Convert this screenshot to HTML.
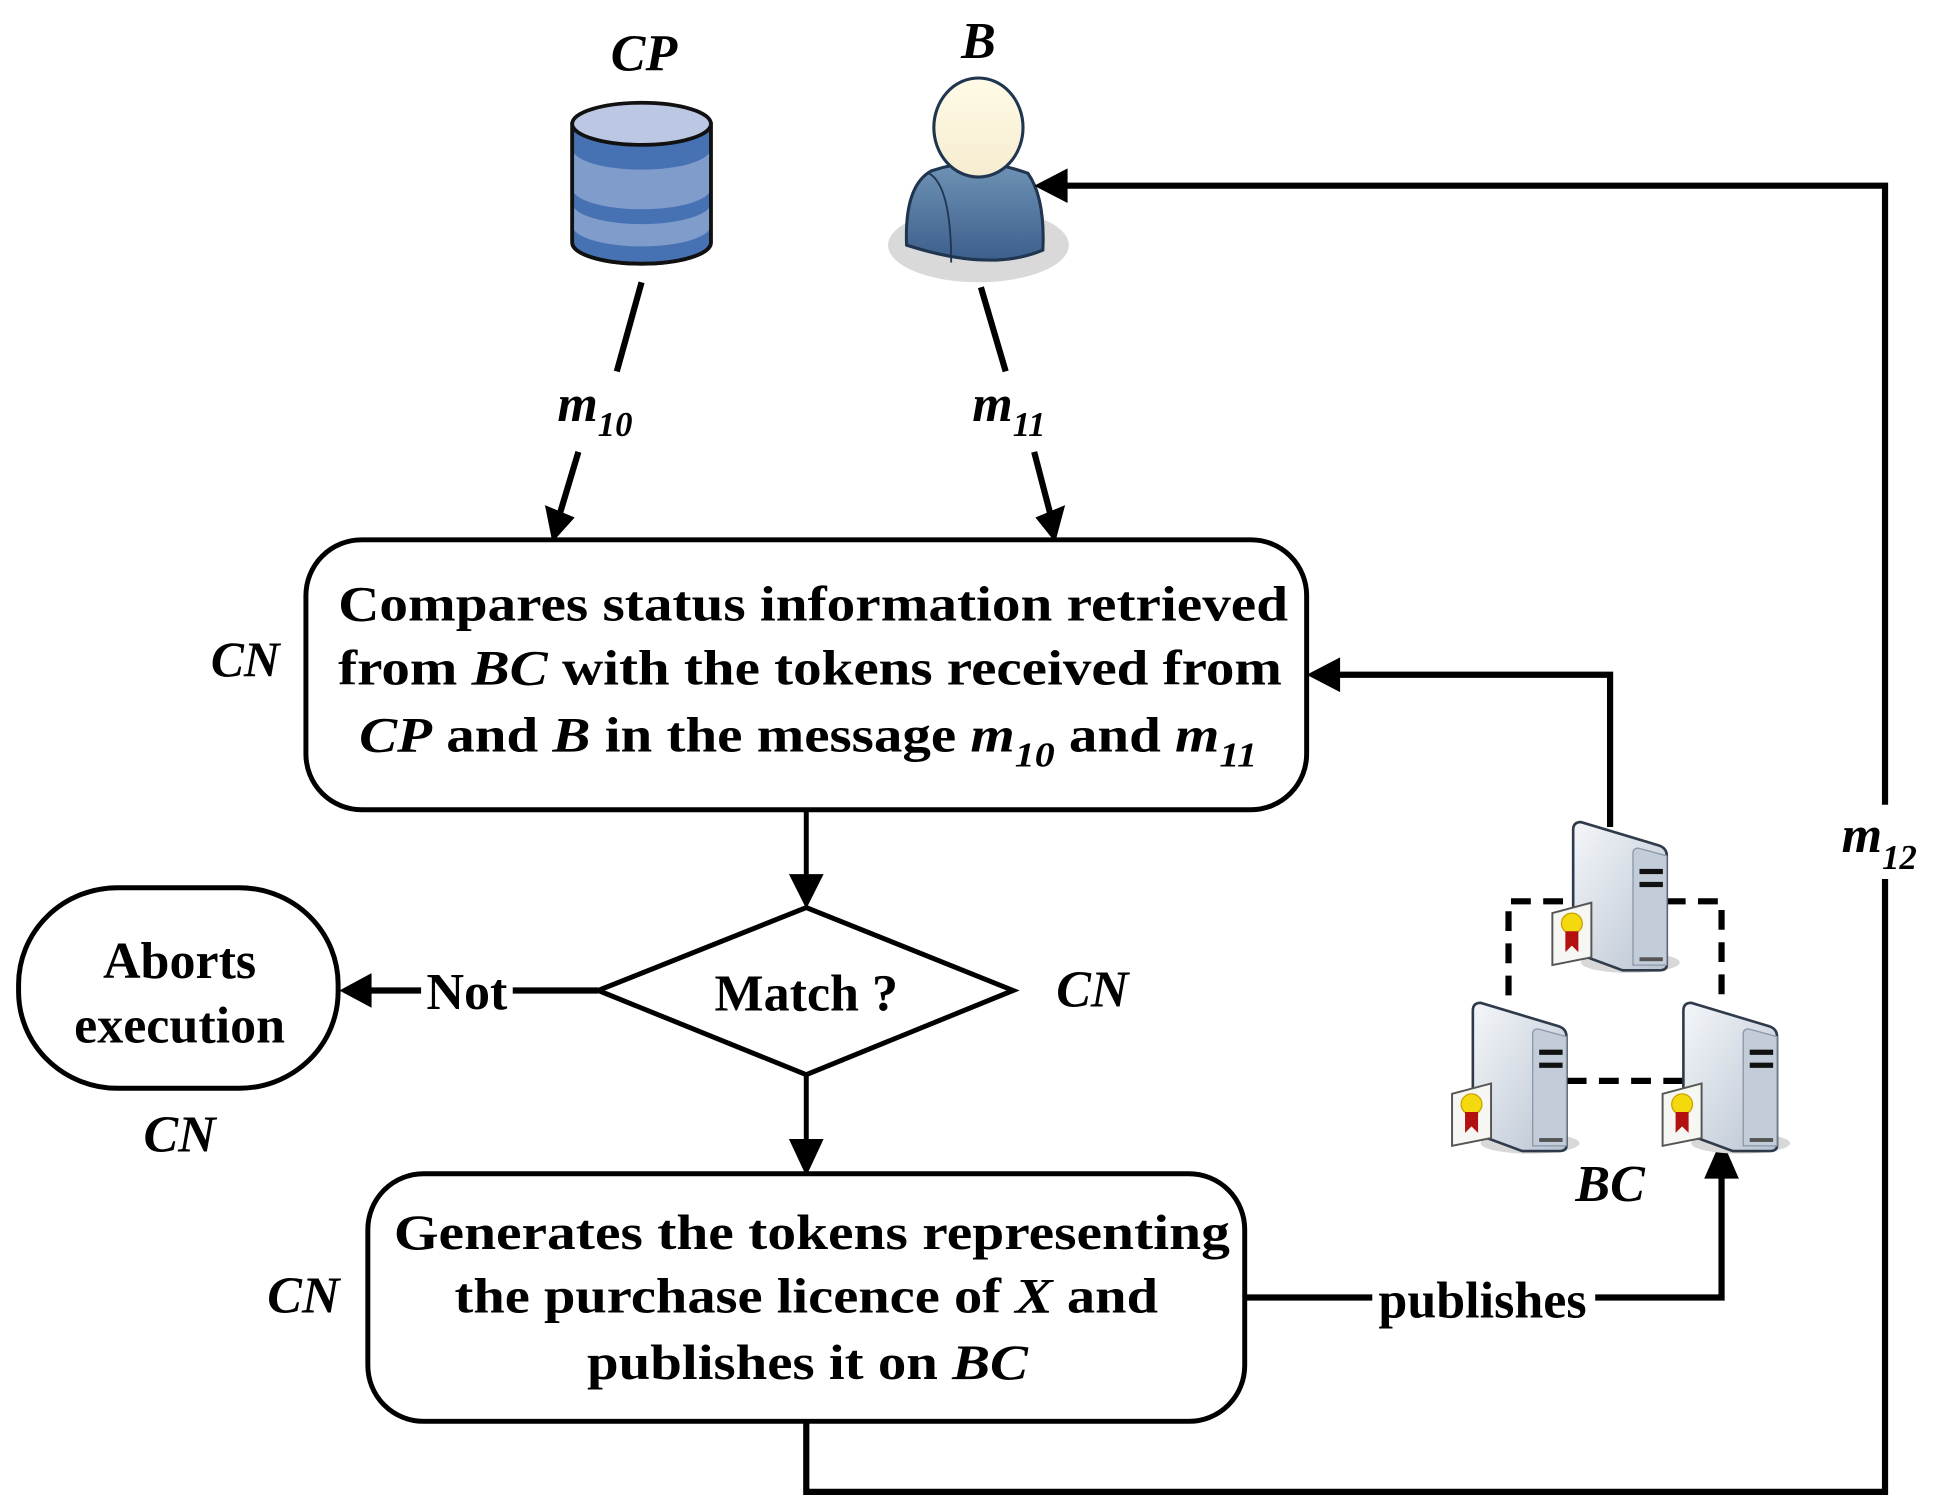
<!DOCTYPE html>
<html><head><meta charset="utf-8"><style>
html,body{margin:0;padding:0;background:#fff;}
svg{display:block;}
text{font-family:"Liberation Serif",serif;font-weight:bold;fill:#000;}
.it{font-style:italic;}
</style></head><body>
<svg width="1942" height="1508" viewBox="0 0 1568 1218" preserveAspectRatio="none" xmlns="http://www.w3.org/2000/svg">
<defs>
<linearGradient id="body" x1="0" y1="0" x2="0" y2="1"><stop offset="0" stop-color="#6f93b5"/><stop offset="1" stop-color="#3d5f8c"/></linearGradient>
<linearGradient id="head" x1="0" y1="0" x2="0" y2="1"><stop offset="0" stop-color="#fffbe6"/><stop offset="1" stop-color="#f6ecd0"/></linearGradient>
<linearGradient id="srv" x1="0" y1="0" x2="1" y2="1"><stop offset="0" stop-color="#f4f6f9"/><stop offset="1" stop-color="#b9c4d2"/></linearGradient>
<g id="server">
  <ellipse cx="48" cy="108" rx="38" ry="8" fill="#d8d8d8"/>
  <path d="M4,6 Q4,0 10,0 L70,18 Q76,20 76,26 L76,110 Q76,114 70,114 L42,114 L4,100 Z" fill="url(#srv)" stroke="#2f3b4a" stroke-width="2"/>
  <path d="M50,24 Q50,20 54,20 L76,26 L76,110 L50,110 Z" fill="#c3cdda" stroke="#8a96a6" stroke-width="1"/>
  <rect x="55" y="36" width="18" height="4" fill="#111"/>
  <rect x="55" y="46" width="18" height="4" fill="#111"/>
  <rect x="55" y="104" width="18" height="3" fill="#555"/>
  <path d="M-12,70 L18,62 L18,104 L-12,110 Z" fill="#f6f6f2" stroke="#555" stroke-width="1.5"/>
  <circle cx="3" cy="78" r="8" fill="#f5d90f" stroke="#c9a300" stroke-width="1"/>
  <path d="M-2,84 L-2,100 L3,95 L8,100 L8,84 Z" fill="#b31010"/>
</g>
</defs>

<!-- CP -->
<text x="520" y="57" class="it" font-size="42" text-anchor="middle">CP</text>
<path d="M462,100 L462,196 A56,17 0 0 0 574,196 L574,100 Z" fill="#4672b4" stroke="#111" stroke-width="3"/>
<path d="M462,120 A56,17 0 0 0 574,120 L574,152 A56,17 0 0 1 462,152 Z" fill="#7f9cca"/>
<path d="M462,164 A56,17 0 0 0 574,164 L574,182 A56,17 0 0 1 462,182 Z" fill="#7f9cca"/>
<ellipse cx="518" cy="100" rx="56" ry="17" fill="#bcc8e3" stroke="#111" stroke-width="3"/>
<path d="M462,100 L462,196 A56,17 0 0 0 574,196 L574,100" fill="none" stroke="#111" stroke-width="3"/>

<!-- B -->
<text x="790" y="47" class="it" font-size="42" text-anchor="middle">B</text>
<ellipse cx="790" cy="198" rx="73" ry="30" fill="#d9d9d9"/>
<path d="M732,198 Q730,150 752,138 Q790,125 830,140 Q844,160 842,202 Q800,220 732,198 Z" fill="url(#body)" stroke="#1f3550" stroke-width="2.5"/>
<path d="M750,140 Q768,150 768,212" fill="none" stroke="#1f3550" stroke-width="1.5"/>
<ellipse cx="790" cy="103" rx="36" ry="40" fill="url(#head)" stroke="#1f3550" stroke-width="2.5"/>

<!-- m10 / m11 -->
<line x1="518" y1="228" x2="498" y2="300" stroke="#000" stroke-width="5"/>
<text x="450" y="340" class="it" font-size="42">m<tspan font-size="28" dy="12">10</tspan></text>
<line x1="467" y1="365" x2="452" y2="415" stroke="#000" stroke-width="5"/>
<polygon points="440,408 464,418 446,438" fill="#000"/>
<line x1="792" y1="232" x2="812" y2="300" stroke="#000" stroke-width="5"/>
<text x="785" y="340" class="it" font-size="42">m<tspan font-size="28" dy="12">11</tspan></text>
<line x1="835" y1="365" x2="848" y2="415" stroke="#000" stroke-width="5"/>
<polygon points="836,418 860,408 852,438" fill="#000"/>

<!-- Box1 -->
<rect x="247" y="436" width="808" height="218" rx="45" fill="#fff" stroke="#000" stroke-width="4"/>
<text x="198" y="546" class="it" font-size="40" text-anchor="middle">CN</text>
<text x="273" y="501" font-size="40" textLength="767" lengthAdjust="spacingAndGlyphs">Compares status information retrieved</text>
<text x="273" y="553" font-size="40" textLength="762" lengthAdjust="spacingAndGlyphs">from <tspan class="it">BC</tspan> with the tokens received from</text>
<text x="290" y="607" font-size="40" textLength="725" lengthAdjust="spacingAndGlyphs"><tspan class="it">CP</tspan> and <tspan class="it">B</tspan> in the message <tspan class="it">m</tspan><tspan class="it" font-size="28" dy="12">10</tspan><tspan dy="-12"> and </tspan><tspan class="it">m</tspan><tspan class="it" font-size="28" dy="12">11</tspan></text>

<!-- arrow to diamond -->
<line x1="651" y1="654" x2="651" y2="712" stroke="#000" stroke-width="4"/>
<polygon points="637,706 665,706 651,734" fill="#000"/>
<polygon points="483,800 651,733 818,800 651,868" fill="#fff" stroke="#000" stroke-width="4"/>
<text x="651" y="816" font-size="42" text-anchor="middle">Match ?</text>
<text x="882" y="813" class="it" font-size="42" text-anchor="middle">CN</text>

<!-- Not -->
<line x1="483" y1="800" x2="414" y2="800" stroke="#000" stroke-width="5"/>
<line x1="340" y1="800" x2="295" y2="800" stroke="#000" stroke-width="5"/>
<polygon points="274,800 300,786 300,814" fill="#000"/>
<text x="377" y="815" font-size="42" text-anchor="middle">Not</text>
<rect x="15" y="717" width="258" height="162" rx="80" ry="78" fill="#fff" stroke="#000" stroke-width="4"/>
<text x="145" y="790" font-size="42" text-anchor="middle">Aborts</text>
<text x="145" y="842" font-size="42" text-anchor="middle">execution</text>
<text x="145" y="930" class="it" font-size="42" text-anchor="middle">CN</text>

<!-- arrow to box2 -->
<line x1="651" y1="868" x2="651" y2="925" stroke="#000" stroke-width="4"/>
<polygon points="637,920 665,920 651,950" fill="#000"/>

<!-- Box2 -->
<rect x="297" y="948" width="708" height="200" rx="45" fill="#fff" stroke="#000" stroke-width="4"/>
<text x="245" y="1060" class="it" font-size="42" text-anchor="middle">CN</text>
<text x="318" y="1009" font-size="40" textLength="675" lengthAdjust="spacingAndGlyphs">Generates the tokens representing</text>
<text x="367" y="1060" font-size="40" textLength="568" lengthAdjust="spacingAndGlyphs">the purchase licence of <tspan class="it">X</tspan> and</text>
<text x="474" y="1114" font-size="40" textLength="356" lengthAdjust="spacingAndGlyphs">publishes it on <tspan class="it">BC</tspan></text>

<!-- publishes -->
<polyline points="1005,1048 1108,1048" fill="none" stroke="#000" stroke-width="5"/>
<polyline points="1288,1048 1390,1048 1390,945" fill="none" stroke="#000" stroke-width="5"/>
<polygon points="1376,952 1404,952 1390,920" fill="#000"/>
<text x="1197" y="1064" font-size="42" text-anchor="middle">publishes</text>

<!-- m12 loop -->
<polyline points="651,1148 651,1205 1522,1205 1522,710" fill="none" stroke="#000" stroke-width="5"/>
<polyline points="1522,650 1522,150 860,150" fill="none" stroke="#000" stroke-width="5"/>
<polygon points="835,150 862,136 862,164" fill="#000"/>
<text x="1487" y="688" class="it" font-size="42">m<tspan font-size="28" dy="14">12</tspan></text>

<!-- BC to box1 -->
<polyline points="1300,668 1300,545 1078,545" fill="none" stroke="#000" stroke-width="5"/>
<polygon points="1055,545 1082,531 1082,559" fill="#000"/>

<!-- dashed -->
<g stroke="#000" stroke-width="5" fill="none" stroke-dasharray="16,10">
<polyline points="1262,728 1218,728 1218,812"/>
<polyline points="1345,728 1390,728 1390,812"/>
<line x1="1265" y1="873" x2="1360" y2="873"/>
</g>

<g transform="translate(1266,664) scale(1.05)"><use href="#server"/></g>
<g transform="translate(1185,810) scale(1.05)"><use href="#server"/></g>
<g transform="translate(1355,810) scale(1.05)"><use href="#server"/></g>

<text x="1300" y="970" class="it" font-size="42" text-anchor="middle">BC</text>
</svg>
</body></html>
